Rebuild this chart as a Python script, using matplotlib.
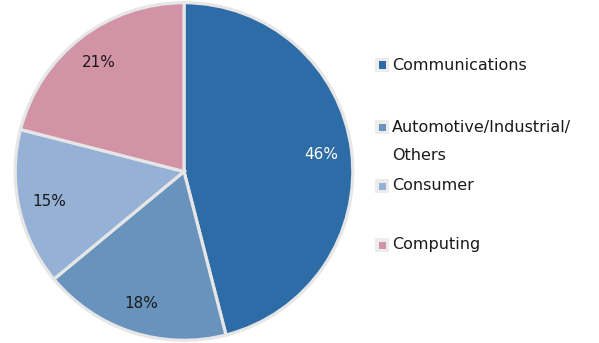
import matplotlib.pyplot as plt
from matplotlib.patches import Rectangle

categorias = ['Communications', 'Automotive/Industrial/\nOthers', 'Consumer', 'Computing']
valores = [46, 18, 15, 21]
colores = ['#2d6ca7', '#6893bd', '#95b1d6', '#d393a7']
color_pct = ['white', '#1a1a1a', '#1a1a1a', '#1a1a1a']

fig = plt.figure(figsize=(5.99, 3.43), dpi=100)
ax = fig.add_axes([13 / 599, 1 / 343, 342 / 599, 341 / 343])

wedges, textos, pcts = ax.pie(
    valores, colors=colores, startangle=90, counterclock=False,
    autopct='%d%%', pctdistance=0.82,
    wedgeprops=dict(edgecolor='#e6e6e6', linewidth=2.3))
for t, c in zip(pcts, color_pct):
    t.set_color(c)
    t.set_fontsize(11)
ax.set_xlim(-1.01, 1.01)
ax.set_ylim(-1.01, 1.01)
ax.set_aspect('equal')

# Leyenda manual
y_leyenda = [65, 127, 186, 245]
for nombre, col, y in zip(categorias, colores, y_leyenda):
    yf = 1 - y / 343
    fig.patches.append(Rectangle((375 / 599, yf - 7 / 343), 14 / 599, 14 / 343,
                                 transform=fig.transFigure, facecolor='#ececec',
                                 edgecolor='none'))
    fig.patches.append(Rectangle((378.5 / 599, yf - 3.5 / 343), 7 / 599, 7 / 343,
                                 transform=fig.transFigure, facecolor=col,
                                 edgecolor='none'))
    if '\n' in nombre:
        fig.text(392 / 599, yf + 7 / 343, nombre, va='top', ha='left',
                 fontsize=11.5, color='#1a1a1a', linespacing=2.05)
    else:
        fig.text(392 / 599, yf, nombre, va='center', ha='left',
                 fontsize=11.5, color='#1a1a1a')

fig.savefig('out.png', dpi=100)
plt.close(fig)
